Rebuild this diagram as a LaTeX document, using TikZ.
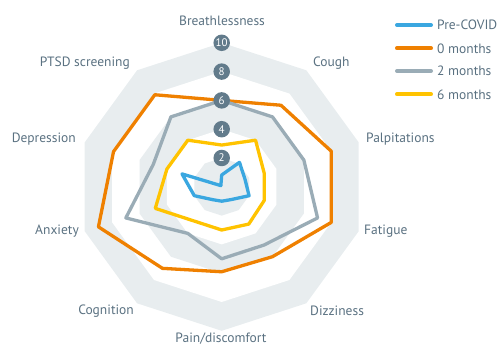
\documentclass[tikz,border=0pt]{standalone}
\usepackage{fontspec}
\setmainfont{PT Sans}
\definecolor{cblue}{HTML}{3AA7E0}
\definecolor{corange}{HTML}{EF8000}
\definecolor{cgrey}{HTML}{9AACB6}
\definecolor{cyellow}{HTML}{FFC300}
\definecolor{bandgrey}{HTML}{E8EDEF}
\definecolor{labelc}{HTML}{5A7181}
\definecolor{numc}{HTML}{627B8B}
\begin{document}
\begin{tikzpicture}[x=1pt,y=1pt,
  ser/.style={line width=3.3pt,line join=round},
  leg/.style={line width=4pt,line cap=round},
  lab/.style={text=labelc,font=\fontsize{13.5}{15}\selectfont,inner sep=0pt},
  legtext/.style={text=labelc,font=\fontsize{13.5}{15}\selectfont,inner sep=0pt,anchor=west},
  num/.style={circle,fill=numc,text=white,minimum size=16.5pt,inner sep=0pt,font=\fontsize{11}{12}\selectfont}]
\useasboundingbox (0,0) rectangle (497,347);
\begin{scope}[shift={(221.7,160.2)}]
  % background bands
  \fill[bandgrey] (90:144) \foreach \a in {54,18,-18,-54,-90,-126,-162,162,126}{ -- (\a:144) } -- cycle;
  \fill[white] (90:115.2) \foreach \a in {54,18,-18,-54,-90,-126,-162,162,126}{ -- (\a:115.2) } -- cycle;
  \fill[bandgrey] (90:86.4) \foreach \a in {54,18,-18,-54,-90,-126,-162,162,126}{ -- (\a:86.4) } -- cycle;
  \fill[white] (90:57.6) \foreach \a in {54,18,-18,-54,-90,-126,-162,162,126}{ -- (\a:57.6) } -- cycle;
  \fill[bandgrey] (90:28.8) \foreach \a in {54,18,-18,-54,-90,-126,-162,162,126}{ -- (\a:28.8) } -- cycle;
  % series
  \draw[ser,cblue] (90:{0.82*14.4}) \foreach \a/\v in {54/2.1,18/1.7,-18/2.0,-54/1.1,-90/1.0,-126/1.1,-162/2.0,162/2.9,126/0.1}{ -- (\a:{\v*14.4}) } -- cycle;
  \draw[ser,corange] (90:{6.0*14.4}) \foreach \a/\v in {54/7.0,18/8.0,-18/8.0,-54/6.0,-90/5.9,-126/7.0,-162/9.0,162/7.9,126/7.9}{ -- (\a:{\v*14.4}) } -- cycle;
  \draw[ser,cgrey] (90:{6.0*14.4}) \foreach \a/\v in {54/6.0,18/6.0,-18/7.0,-54/5.0,-90/5.0,-126/4.0,-162/7.0,162/5.0,126/6.0}{ -- (\a:{\v*14.4}) } -- cycle;
  \draw[ser,cyellow] (90:{2.9*14.4}) \foreach \a/\v in {54/4.0,18/3.1,-18/3.1,-54/3.2,-90/3.0,-126/3.0,-162/4.85,162/4.0,126/4.0}{ -- (\a:{\v*14.4}) } -- cycle;
  % scale markers
  \node[num] (n10) at (90:144) {10};
  \node[num] (n8) at (90:115.2) {8};
  \node[num] (n6) at (90:86.4) {6};
  \node[num] (n4) at (90:57.6) {4};
  \node[num] (n2) at (90:28.8) {2};
\end{scope}
% axis labels
\node[lab] (l1) at (222,326) {Breathlessness};
\node[lab,anchor=west] (l2) at (313,284) {Cough};
\node[lab,anchor=west] (l3) at (366,208) {Palpitations};
\node[lab,anchor=west] (l4) at (364,116) {Fatigue};
\node[lab,anchor=west] (l5) at (310,36) {Dizziness};
\node[lab] (l6) at (221,8) {Pain/discomfort};
\node[lab,anchor=east] (l7) at (134,36) {Cognition};
\node[lab,anchor=east] (l8) at (79,116) {Anxiety};
\node[lab,anchor=east] (l9) at (76,208) {Depression};
\node[lab,anchor=east] (l10) at (130,284) {PTSD screening};
% legend
\coordinate (a1) at (397,322); \coordinate (b1) at (431,322);
\coordinate (a2) at (397,298.7); \coordinate (b2) at (431,298.7);
\coordinate (a3) at (397,276); \coordinate (b3) at (431,276);
\coordinate (a4) at (397,252.7); \coordinate (b4) at (431,252.7);
\draw[leg,cblue] (a1) -- (b1);
\draw[leg,corange] (a2) -- (b2);
\draw[leg,cgrey] (a3) -- (b3);
\draw[leg,cyellow] (a4) -- (b4);
\node[legtext] (t1) at (437,322) {Pre-COVID};
\node[legtext] (t2) at (437,298.7) {0 months};
\node[legtext] (t3) at (437,276) {2 months};
\node[legtext] (t4) at (437,252.7) {6 months};
\end{tikzpicture}
\end{document}
